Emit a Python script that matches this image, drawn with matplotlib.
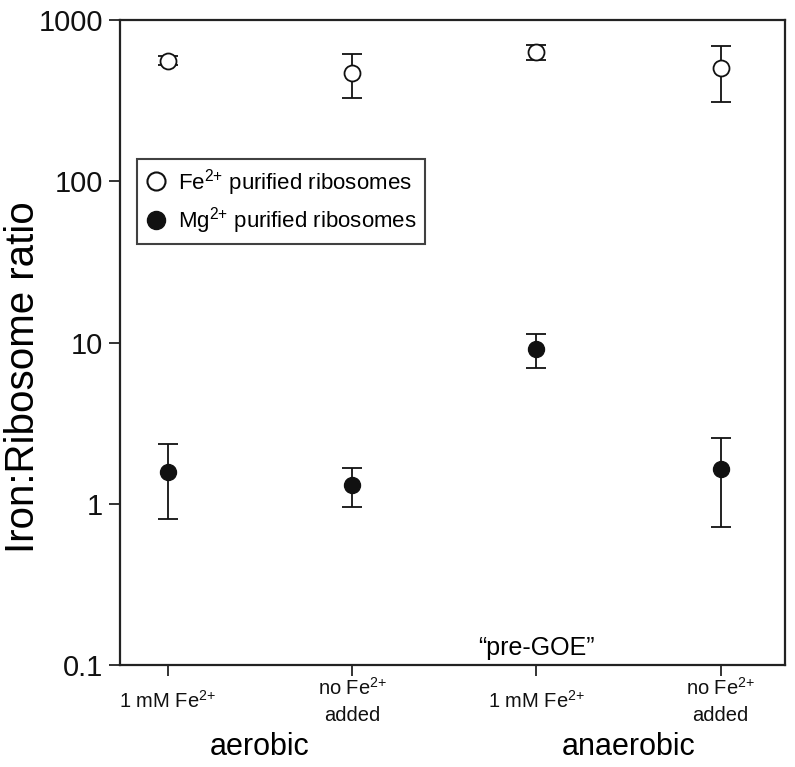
import matplotlib
matplotlib.use("Agg")
import matplotlib.pyplot as plt
import matplotlib.transforms as mtransforms
from matplotlib.lines import Line2D
import numpy as np

plt.rcParams['font.family'] = ['Liberation Sans', 'DejaVu Sans']
plt.rcParams['mathtext.fontset'] = 'custom'
plt.rcParams['mathtext.rm'] = 'Liberation Sans'
plt.rcParams['mathtext.it'] = 'Liberation Sans:italic'

# data
positions = [1, 2, 3, 4]
tick_labels = ['1 mM Fe$^{2{+}}$', 'no Fe$^{2{+}}$\nadded', '1 mM Fe$^{2{+}}$', 'no Fe$^{2{+}}$\nadded']
groups = ['aerobic', 'anaerobic']
group_pos = [1.5, 3.5]

fe_vals = [560, 471, 636, 502]
fe_err = [35, 145, 68, 190]
mg_vals = [1.58, 1.31, 9.1, 1.64]
mg_err = [0.78, 0.35, 2.2, 0.92]

fig = plt.figure(figsize=(7.95, 7.67), dpi=100)
ax = fig.add_axes([120/795, 1 - 665/767, 665/795, 645/767])

ink = '#111111'
ax.errorbar(positions, fe_vals, yerr=fe_err, fmt='none', ecolor=ink,
            elinewidth=1.3, capsize=7.5, capthick=1.3, zorder=2)
ax.errorbar(positions, mg_vals, yerr=mg_err, fmt='none', ecolor=ink,
            elinewidth=1.3, capsize=7.5, capthick=1.3, zorder=2)
ax.plot(positions, fe_vals, 'o', ms=11.5, mfc='white', mec=ink, mew=1.3,
        ls='none', zorder=3)
ax.plot(positions, mg_vals, 'o', ms=11.5, mfc=ink, mec=ink, mew=1.0,
        ls='none', zorder=3)

ax.set_yscale('log')
ax.set_ylim(0.1, 1000)
ax.set_xlim(0.74, 4.35)
ax.set_yticks([0.1, 1, 10, 100, 1000])
ax.set_yticklabels(['0.1', '1', '10', '100', '1000'], fontsize=21)
ax.minorticks_off()
ax.set_xticks(positions)
ax.set_xticklabels(tick_labels, fontsize=14.5, linespacing=1.45)
for lab in ax.get_xticklabels():
    lab.set_verticalalignment('center')
ax.tick_params(axis='x', length=8, width=1.2, pad=18, colors=ink)
ax.tick_params(axis='y', length=8, width=1.2, pad=4, colors=ink)

for s in ax.spines.values():
    s.set_linewidth(1.6)
    s.set_color('#222222')

ax.set_ylabel('Iron:Ribosome ratio', fontsize=29)
ax.yaxis.set_label_coords(-0.117, 0.447)

trans = mtransforms.blended_transform_factory(ax.transData, ax.transAxes)
for g, p in zip(groups, group_pos):
    ax.text(p, -0.127, g, transform=trans, ha='center', va='center', fontsize=22)

ax.text(3, 0.128, '\u201cpre-GOE\u201d', ha='center', va='center', fontsize=18)

handles = [
    Line2D([], [], marker='o', ls='none', ms=13, mfc='white', mec=ink, mew=1.5),
    Line2D([], [], marker='o', ls='none', ms=13, mfc=ink, mec=ink),
]
leg = ax.legend(handles, ['Fe$^{2{+}}$ purified ribosomes', 'Mg$^{2{+}}$ purified ribosomes'],
                loc='upper left', bbox_to_anchor=(0.0256, 0.7845), borderaxespad=0,
                fontsize=16, frameon=True, fancybox=False, handlelength=1.0,
                handletextpad=0.5, borderpad=0.35, labelspacing=0.35)
leg.get_frame().set_edgecolor(ink)
leg.get_frame().set_linewidth(1.5)

fig.savefig('out.png', dpi=100)
